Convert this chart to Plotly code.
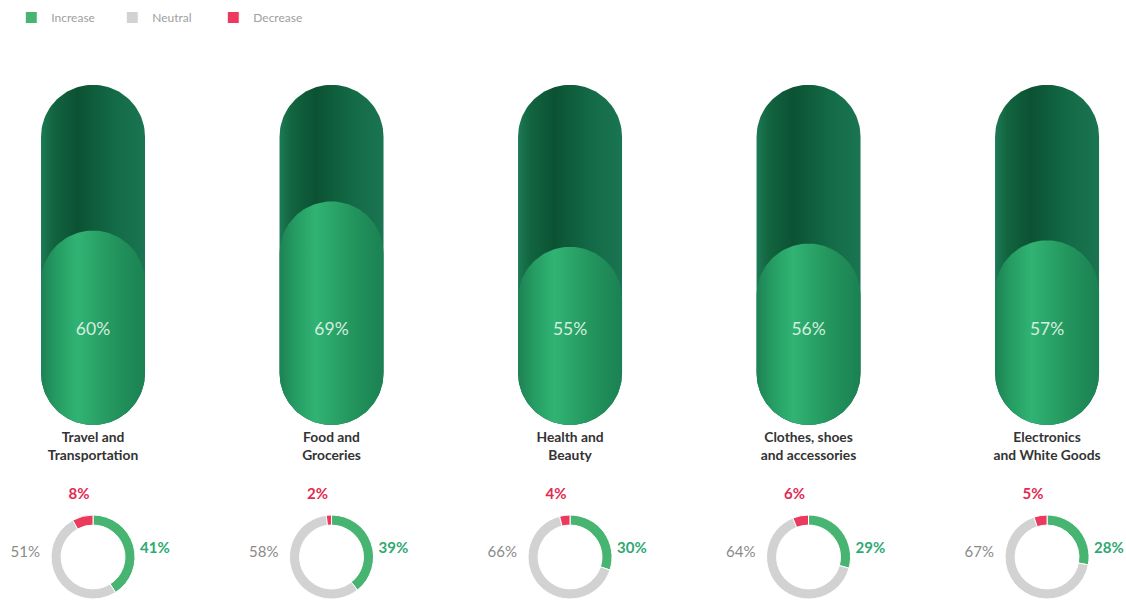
import numpy as np
import plotly.graph_objects as go

# ---- data ----
categories = ["Travel and<br>Transportation", "Food and<br>Groceries", "Health and<br>Beauty",
              "Clothes, shoes<br>and accessories", "Electronics<br>and White Goods"]
pill_values = [60, 69, 55, 56, 57]
increase = [41, 39, 30, 29, 28]
neutral = [51, 58, 66, 64, 67]
decrease = [8, 2, 4, 6, 5]
slice_labels = ["Increase", "Neutral", "Decrease"]
slice_colors = ["#47b571", "#d2d2d2", "#ec3a5f"]

# ---- geometry / layout constants ----
W, H = 1126, 603
X0, X1 = -0.39, 4.331            # x axis range (category index units)
PX_PER_X = W / (X1 - X0)
Y_PX0, PX_PER_Y = 425, 3.24       # pixel of y=0, pixels per y unit
PILL_TOP = 105
Y_LO = (Y_PX0 - H) / PX_PER_Y
Y_HI = Y_PX0 / PX_PER_Y
HALF_W_PX = 52

hw = HALF_W_PX / PX_PER_X
ry = HALF_W_PX / PX_PER_Y


def ypx(p):
    return (Y_PX0 - p) / PX_PER_Y


def capsule(cx, y0, y1, n=60):
    t1 = np.linspace(0, np.pi, n)
    t2 = np.linspace(np.pi, 2 * np.pi, n)
    xs = np.concatenate([cx + hw * np.cos(t1), cx + hw * np.cos(t2)])
    ys = np.concatenate([y1 - ry + ry * np.sin(t1), y0 + ry + ry * np.sin(t2)])
    return np.append(xs, xs[0]), np.append(ys, ys[0])


dark_scale = [[0, "#1c7a55"], [0.12, "#12643f"], [0.35, "#0b5233"], [0.7, "#136a46"], [1, "#1b7552"]]
fill_scale = [[0, "#1d8253"], [0.15, "#259c63"], [0.35, "#31b374"], [0.7, "#23955d"], [1, "#1b8153"]]

fig = go.Figure()

for i, v in enumerate(pill_values):
    xs, ys = capsule(i, 0, PILL_TOP)
    fig.add_trace(go.Scatter(x=xs, y=ys, mode="lines", fill="toself", line=dict(width=0),
                             fillgradient=dict(type="horizontal", colorscale=dark_scale),
                             hoverinfo="skip", showlegend=False))
    xs, ys = capsule(i, 0, v)
    fig.add_trace(go.Scatter(x=xs, y=ys, mode="lines", fill="toself", line=dict(width=0),
                             fillgradient=dict(type="horizontal", colorscale=fill_scale),
                             hoverinfo="skip", showlegend=False))

idx = list(range(len(categories)))

# percentage labels inside pills
fig.add_trace(go.Scatter(x=idx, y=[ypx(331)] * len(idx), mode="text",
                         text=[f"{v}%" for v in pill_values],
                         textfont=dict(family="Lato", size=17.5, color="#d3efdf"),
                         hoverinfo="skip", showlegend=False))
# category labels
fig.add_trace(go.Scatter(x=idx, y=[ypx(448)] * len(idx), mode="text",
                         text=[f"<b>{c}</b>" for c in categories],
                         textfont=dict(family="Lato", size=13.8, color="#333333"),
                         hoverinfo="skip", showlegend=False))

# donuts
R_PX, CY_PX = 42, 557
for i in idx:
    cx_px = (i - X0) * PX_PER_X
    fig.add_trace(go.Pie(labels=slice_labels, values=[increase[i], neutral[i], decrease[i]],
                         sort=False, direction="clockwise", hole=0.76,
                         marker=dict(colors=slice_colors, line=dict(color="white", width=1)),
                         textinfo="none", hoverinfo="label+percent",
                         showlegend=(i == 0),
                         domain=dict(x=[(cx_px - R_PX) / W, (cx_px + R_PX) / W],
                                     y=[(H - CY_PX - R_PX) / H, (H - CY_PX + R_PX) / H])))

off_left = 53 / PX_PER_X
off_right = 47 / PX_PER_X
off_top = 14 / PX_PER_X
fig.add_trace(go.Scatter(x=[i - off_top for i in idx], y=[ypx(495)] * 5, mode="text",
                         text=[f"<b>{d}%</b>" for d in decrease],
                         textfont=dict(family="Lato", size=15, color="#e32a4f"),
                         hoverinfo="skip", showlegend=False))
fig.add_trace(go.Scatter(x=[i - off_left for i in idx], y=[ypx(553)] * 5, mode="text",
                         text=[f"{n}%" for n in neutral], textposition="middle left",
                         textfont=dict(family="Lato", size=15, color="#8a8a8a"),
                         hoverinfo="skip", showlegend=False))
fig.add_trace(go.Scatter(x=[i + off_right for i in idx], y=[ypx(549)] * 5, mode="text",
                         text=[f"<b>{n}%</b>" for n in increase], textposition="middle right",
                         textfont=dict(family="Lato", size=15, color="#2fa872"),
                         hoverinfo="skip", showlegend=False))

fig.update_layout(
    width=W, height=H, margin=dict(l=0, r=0, t=0, b=0),
    paper_bgcolor="white", plot_bgcolor="white",
    xaxis=dict(range=[X0, X1], visible=False, fixedrange=True),
    yaxis=dict(range=[Y_LO, Y_HI], visible=False, fixedrange=True),
    legend=dict(orientation="h", x=0.01, y=0.995, xanchor="left", yanchor="top",
                font=dict(family="Lato", size=12, color="#a0a0a0"),
                entrywidth=56, entrywidthmode="pixels", bgcolor="rgba(0,0,0,0)"),
    showlegend=True,
)

fig.write_html("out.html")
